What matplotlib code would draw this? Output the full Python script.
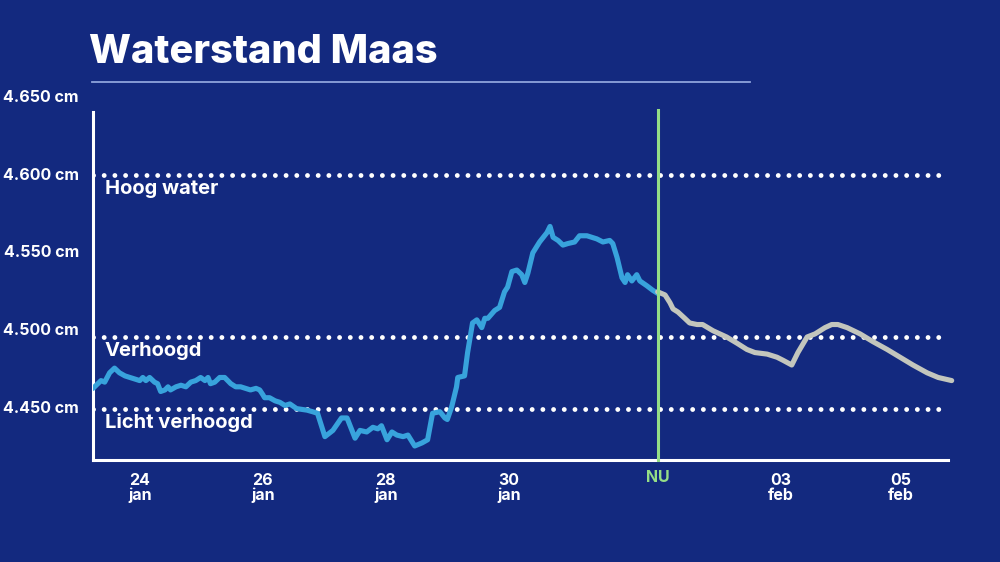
import matplotlib
matplotlib.use("Agg")
import matplotlib.pyplot as plt
import matplotlib.transforms as mtransforms

# tijd in dagen (24.0 = 24 jan 00:00, 32.0 = 1 feb), waterstand in cm
meting_t = [23.24, 23.37, 23.43, 23.51, 23.59, 23.67, 23.76, 23.84, 23.92, 24.00,
            24.05, 24.10, 24.16, 24.24, 24.29, 24.34, 24.41, 24.46, 24.50, 24.59,
            24.67, 24.75, 24.83, 24.91, 24.99, 25.06, 25.11, 25.15, 25.22, 25.30,
            25.38, 25.43, 25.48, 25.56, 25.64, 25.72, 25.80, 25.89, 25.95, 26.00,
            26.03, 26.11, 26.20, 26.28, 26.36, 26.44, 26.55, 26.72, 26.81, 26.89,
            27.01, 27.14, 27.28, 27.37, 27.50, 27.58, 27.69, 27.79, 27.87, 27.93,
            28.02, 28.10, 28.18, 28.28, 28.36, 28.47, 28.59, 28.68, 28.76, 28.88,
            28.96, 29.00, 29.07, 29.15, 29.17, 29.28, 29.33, 29.41, 29.48, 29.56,
            29.61, 29.66, 29.77, 29.85, 29.93, 29.98, 30.05, 30.13, 30.21, 30.26,
            30.31, 30.39, 30.50, 30.62, 30.67, 30.72, 30.80, 30.88, 30.96, 31.07,
            31.15, 31.27, 31.35, 31.43, 31.53, 31.64, 31.69, 31.76, 31.84, 31.89,
            31.93, 32.00, 32.08, 32.13, 32.24, 32.34, 32.42]
meting_cm = [4463, 4468, 4467, 4473, 4476, 4473, 4471, 4470, 4469, 4468,
             4470, 4468, 4470, 4467, 4466, 4461, 4462, 4464, 4462, 4464,
             4465, 4464, 4467, 4468, 4470, 4468, 4470, 4466, 4467, 4470,
             4470, 4468, 4466, 4464, 4464, 4463, 4462, 4463, 4462, 4459,
             4457, 4457, 4455, 4454, 4452, 4453, 4450, 4449, 4448, 4447,
             4432, 4436, 4444, 4444, 4431, 4436, 4435, 4438, 4437, 4439,
             4430, 4435, 4433, 4432, 4433, 4426, 4428, 4430, 4447, 4448,
             4444, 4443, 4451, 4464, 4470, 4471, 4486, 4505, 4507, 4502,
             4508, 4508, 4513, 4515, 4525, 4528, 4538, 4539, 4536, 4531,
             4537, 4550, 4557, 4563, 4567, 4560, 4558, 4555, 4556, 4557,
             4561, 4561, 4560, 4559, 4557, 4558, 4556, 4547, 4534, 4531,
             4536, 4532, 4536, 4532, 4529, 4526, 4524]

verwacht_t = [32.42, 32.54, 32.62, 32.67, 32.75, 32.86, 32.94, 33.06, 33.15, 33.32,
              33.54, 33.71, 33.87, 34.00, 34.20, 34.36, 34.46, 34.60, 34.70, 34.85,
              34.98, 35.14, 35.25, 35.35, 35.50, 35.71, 35.92, 36.15, 36.36, 36.57,
              36.80, 36.98, 37.20]
verwacht_cm = [4525, 4523, 4518, 4514, 4512, 4508, 4505, 4504, 4504, 4500,
               4496, 4492, 4488, 4486, 4485, 4483, 4481, 4478, 4486, 4496,
               4498, 4502, 4504, 4504, 4502, 4498, 4493, 4488, 4483, 4478,
               4473, 4470, 4468]

nu_t = 32.42
grens_cm = [4600, 4496, 4450]
grens_naam = ["Hoog water", "Verhoogd", "Licht verhoogd"]
y_ticks = [4450, 4500, 4550, 4600, 4650]
x_ticks = [24, 26, 28, 30, 34.42, 36.37]
x_labels = ["24\njan", "26\njan", "28\njan", "30\njan", "03\nfeb", "05\nfeb"]

BG = "#13297f"
WIT = "#ffffff"
BLAUW = "#38a3dc"
GRIJS = "#c3c6bd"
GROEN = "#95de86"
FONT = "Inter"

fig = plt.figure(figsize=(10, 5.62), dpi=100, facecolor=BG)
ax = fig.add_axes([0.093, 0.1815, 0.855, 0.619])
ax.set_facecolor(BG)

ax.set_xlim(23.24, 37.14)
ax.set_ylim(4417, 4640.4)

for sp in ["top", "right"]:
    ax.spines[sp].set_visible(False)
for sp in ["left", "bottom"]:
    ax.spines[sp].set_color(WIT)
    ax.spines[sp].set_linewidth(2.2)

# grenslijnen (stippels) met label eronder
for val, naam in zip(grens_cm, grens_naam):
    ax.axhline(val, xmin=0.0, xmax=0.99, color=WIT, lw=3.5,
               linestyle=(0, (0.001, 2.2)), dash_capstyle="round", zorder=2)
    ax.annotate(naam, xy=(0, val), xycoords=("axes fraction", "data"),
                xytext=(8.5, -3.5), textcoords="offset points", ha="left", va="top",
                color=WIT, fontsize=14.5, fontweight="bold", family=FONT)

ax.plot(meting_t, meting_cm, color=BLAUW, lw=3.7, solid_joinstyle="round",
        solid_capstyle="round", zorder=3)
ax.plot(verwacht_t, verwacht_cm, color=GRIJS, lw=3.7, solid_joinstyle="round",
        solid_capstyle="round", zorder=3, clip_on=False)
ax.axvline(nu_t, color=GROEN, lw=2.2, zorder=4, ymax=1.005, clip_on=False)

# y-labels (ook 4.650, boven de as)
ax.set_yticks([])
trans = mtransforms.blended_transform_factory(ax.transAxes, ax.transData)
for v in y_ticks:
    lbl = f"{v:,}".replace(",", ".") + " cm"
    ax.text(-0.0165, v, lbl, transform=trans, ha="right", va="center",
            color=WIT, fontsize=11.5, fontweight="bold", family=FONT, clip_on=False)

ax.set_xticks(x_ticks)
ax.set_xticklabels(x_labels, color=WIT, fontsize=11.5, fontweight="bold",
                   family=FONT, linespacing=0.95)
ax.tick_params(axis="x", length=0, pad=9.5)
ax.text(nu_t, -0.03, "NU", transform=mtransforms.blended_transform_factory(ax.transData, ax.transAxes),
        ha="center", va="top", color=GROEN, fontsize=11.5, fontweight="bold", family=FONT)

fig.text(0.089, 0.907, "Waterstand Maas", color=WIT, fontsize=28.6, fontweight="heavy",
         family=FONT, ha="left", va="center")
fig.add_artist(plt.Line2D([0.092, 0.75], [0.854, 0.854], color="#8ea3dc", lw=1.3))

fig.savefig("out.png", dpi=100, facecolor=BG)
